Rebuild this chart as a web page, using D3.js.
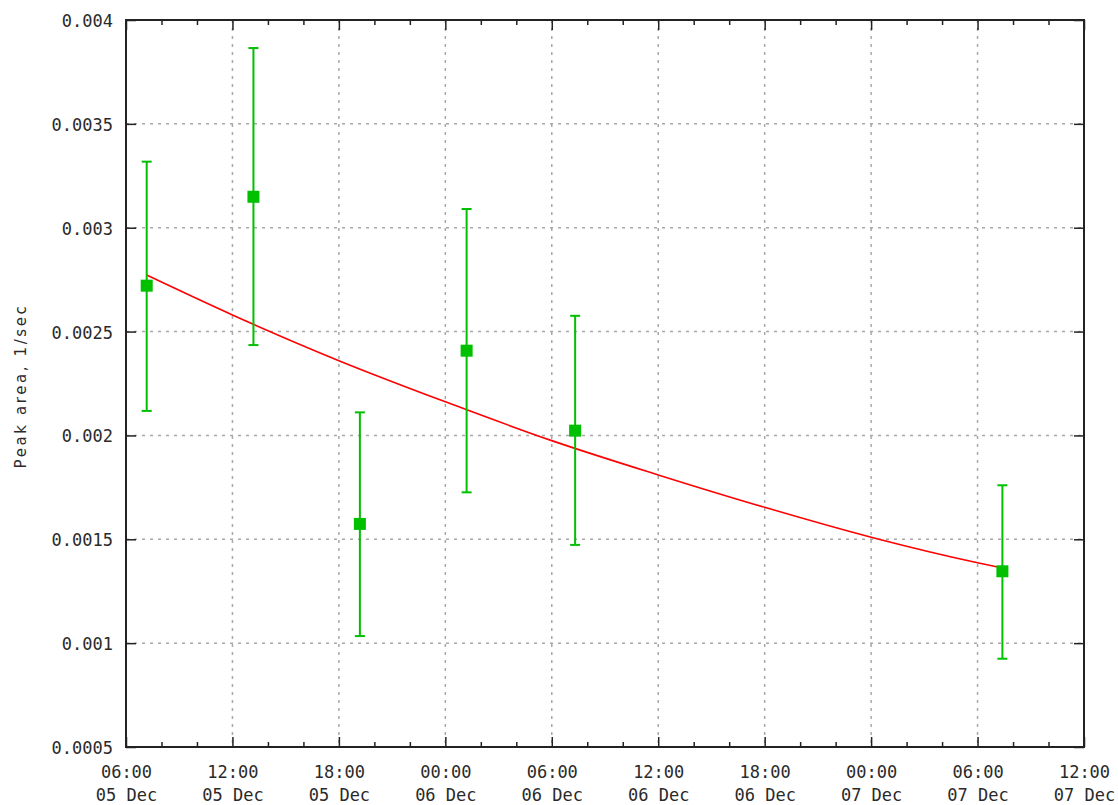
<!DOCTYPE html>
<meta charset="utf-8">
<style>
body { margin: 0; background: #fff; }
.tick text, .lbl { font: 17px "DejaVu Sans Mono"; fill: #2a2a2a; }
.ylabel { font: 15px "DejaVu Sans"; fill: #2a2a2a; letter-spacing: 2.6px; }
.grid line { stroke: #a8a8a8; stroke-width: 1.5px; stroke-dasharray: 3,5; }
</style>
<body>
<script src="https://d3js.org/d3.v7.min.js"></script>
<script>

// measurement times (UTC) and peak area with error bounds
const times = ["2023-12-05T07:10", "2023-12-05T13:11", "2023-12-05T19:11",
               "2023-12-06T01:12", "2023-12-06T07:19", "2023-12-07T07:24"];
const values = [0.002721, 0.003149, 0.001574, 0.002408, 0.002023, 0.001346];
const errHigh = [0.003318, 0.003865, 0.002111, 0.003090, 0.002576, 0.001760];
const errLow = [0.002118, 0.002435, 0.001034, 0.001726, 0.001473, 0.000925];

// fitted decay curve
const fitTimes = ["2023-12-05T07:10", "2023-12-05T12:00", "2023-12-05T18:00",
                  "2023-12-06T00:00", "2023-12-06T06:00", "2023-12-06T12:00",
                  "2023-12-06T18:00", "2023-12-07T00:00", "2023-12-07T06:00",
                  "2023-12-07T07:24"];
const fitValues = [0.002772, 0.002580, 0.002360, 0.002162, 0.001975, 0.001810,
                   0.001654, 0.001510, 0.001387, 0.001362];

const yTicks = [0.0005, 0.001, 0.0015, 0.002, 0.0025, 0.003, 0.0035, 0.004];
const yTickLabels = ["0.0005", "0.001", "0.0015", "0.002", "0.0025", "0.003", "0.0035", "0.004"];

const width = 1118, height = 805;
const mLeft = 126, mTop = 20, mRight = 1084, mBottom = 747;

const parse = d3.utcParse("%Y-%m-%dT%H:%M");

const x = d3.scaleUtc()
    .domain([parse("2023-12-05T06:00"), parse("2023-12-07T12:00")])
    .range([mLeft, mRight]);
const y = d3.scaleLinear()
    .domain([0.0005, 0.004])
    .range([mBottom, mTop]);

const svg = d3.select("body").append("svg")
    .attr("width", width)
    .attr("height", height);

const majorX = d3.utcHour.every(6).range(x.domain()[0], new Date(+x.domain()[1] + 1));
const minorX = d3.utcHour.every(2).range(x.domain()[0], new Date(+x.domain()[1] + 1))
    .filter(d => d.getUTCHours() % 6 !== 0);

// grid
const grid = svg.append("g").attr("class", "grid");
grid.selectAll(".gx")
  .data(majorX.slice(1, -1))
  .join("line")
    .attr("x1", d => x(d)).attr("x2", d => x(d))
    .attr("y1", mTop).attr("y2", mBottom);
grid.selectAll(".gy")
  .data(yTicks.slice(1, -1))
  .join("line")
    .attr("x1", mLeft).attr("x2", mRight)
    .attr("y1", d => y(d)).attr("y2", d => y(d));

// axes: ticks pointing inward, mirrored on top and right
const fmtTime = d3.utcFormat("%H:%M"), fmtDay = d3.utcFormat("%d %b");

const xBottom = svg.append("g")
    .attr("transform", `translate(0,${mBottom})`)
    .call(d3.axisBottom(x).tickValues(majorX).tickSizeInner(-10).tickSizeOuter(0).tickFormat(""));
xBottom.selectAll(".tick").append("text")
    .attr("class", "lbl")
    .attr("text-anchor", "middle")
    .attr("y", 31)
    .text(d => fmtTime(d));
xBottom.selectAll(".tick").append("text")
    .attr("class", "lbl")
    .attr("text-anchor", "middle")
    .attr("y", 54)
    .text(d => fmtDay(d));
svg.append("g")
    .attr("transform", `translate(0,${mBottom})`)
    .call(d3.axisBottom(x).tickValues(minorX).tickSizeInner(-5).tickSizeOuter(0).tickFormat(""));

svg.append("g")
    .attr("transform", `translate(0,${mTop})`)
    .call(d3.axisTop(x).tickValues(majorX).tickSizeInner(-10).tickSizeOuter(0).tickFormat(""));
svg.append("g")
    .attr("transform", `translate(0,${mTop})`)
    .call(d3.axisTop(x).tickValues(minorX).tickSizeInner(-5).tickSizeOuter(0).tickFormat(""));

const yLeft = svg.append("g")
    .attr("transform", `translate(${mLeft},0)`)
    .call(d3.axisLeft(y).tickValues(yTicks).tickSizeInner(-10).tickSizeOuter(0)
      .tickFormat((d, i) => yTickLabels[i]));
yLeft.selectAll(".tick text")
    .attr("x", -13)
    .attr("dy", "0.38em");

svg.append("g")
    .attr("transform", `translate(${mRight},0)`)
    .call(d3.axisRight(y).tickValues(yTicks).tickSizeInner(-10).tickSizeOuter(0).tickFormat(""));

svg.selectAll(".domain").remove();
svg.selectAll(".tick line").attr("stroke", "#222").attr("stroke-width", 1.5);

// border
svg.append("rect")
    .attr("x", mLeft).attr("y", mTop)
    .attr("width", mRight - mLeft).attr("height", mBottom - mTop)
    .attr("fill", "none")
    .attr("stroke", "#222")
    .attr("stroke-width", 2);

// y-axis title
svg.append("text")
    .attr("class", "ylabel")
    .attr("transform", `translate(26,386) rotate(-90)`)
    .attr("text-anchor", "middle")
    .text("Peak area, 1/sec");

// fit line
const fit = fitTimes.map((t, i) => ({ t: parse(t), v: fitValues[i] }));
svg.append("path")
    .datum(fit)
    .attr("fill", "none")
    .attr("stroke", "#ff0000")
    .attr("stroke-width", 1.6)
    .attr("d", d3.line().curve(d3.curveMonotoneX).x(d => x(d.t)).y(d => y(d.v)));

// points with error bars
const pts = times.map((t, i) => ({ t: parse(t), v: values[i], hi: errHigh[i], lo: errLow[i] }));
const green = "#00c000";
const pg = svg.append("g").selectAll("g").data(pts).join("g");
pg.append("line")
    .attr("x1", d => x(d.t)).attr("x2", d => x(d.t))
    .attr("y1", d => y(d.hi)).attr("y2", d => y(d.lo))
    .attr("stroke", green).attr("stroke-width", 2);
pg.selectAll(".cap")
  .data(d => [[d.t, d.hi], [d.t, d.lo]])
  .join("line")
    .attr("x1", d => x(d[0]) - 5).attr("x2", d => x(d[0]) + 5)
    .attr("y1", d => y(d[1])).attr("y2", d => y(d[1]))
    .attr("stroke", green).attr("stroke-width", 2);
pg.append("rect")
    .attr("x", d => x(d.t) - 6).attr("y", d => y(d.v) - 6)
    .attr("width", 12).attr("height", 12)
    .attr("fill", green);

</script>
